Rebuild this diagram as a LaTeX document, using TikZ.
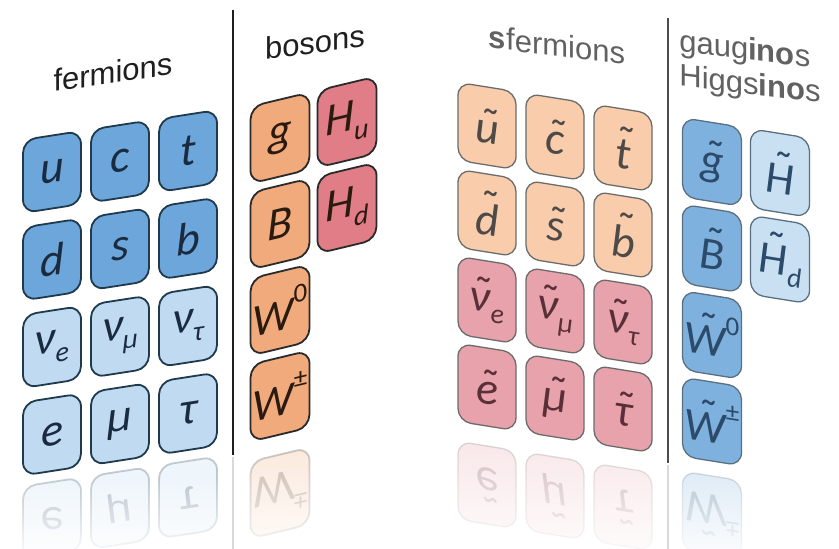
\documentclass[tikz,border=0pt]{standalone}
\usepackage{fontspec}
\usetikzlibrary{fadings}
\newfontfamily\pfont{Carlito}
\newfontfamily\hfont{Liberation Sans}

% particle symbols: sub/superscripts and a tilde placed over a glyph
\newcommand\sbs[1]{\raisebox{-0.22em}{\fontsize{28}{28}\selectfont #1}}
\newcommand\sps[1]{\raisebox{0.52em}{\fontsize{27}{27}\selectfont\upshape #1}}
\newcommand\tld[2][0.16em]{{\setbox0\hbox{#2}\rlap{\hbox to\wd0{\hss\kern#1\raisebox{\dimexpr\ht0-0.40em\relax}{\upshape\char"02DC}\hss}}\box0}}

\definecolor{quarkfill}{HTML}{6CA6DA}
\definecolor{leptonfill}{HTML}{BFDAF1}
\definecolor{ferline}{HTML}{1E3A4C}
\definecolor{fertext}{HTML}{1A2B40}
\definecolor{gaugefill}{HTML}{F1AA7B}
\definecolor{higgsfill}{HTML}{E07D87}
\definecolor{bosline}{HTML}{2A2A2A}
\definecolor{bostext}{HTML}{2A1A10}
\definecolor{squarkfill}{HTML}{F9CDAB}
\definecolor{sleptonfill}{HTML}{E8A2AB}
\definecolor{sfline}{HTML}{6B6B6B}
\definecolor{sqtext}{HTML}{4E4A48}
\definecolor{sltext}{HTML}{5A3038}
\definecolor{gauginofill}{HTML}{7EB1DE}
\definecolor{higgsinofill}{HTML}{C9E0F3}
\definecolor{ginoline}{HTML}{5A6F80}
\definecolor{ginotext}{HTML}{2C4A6A}

\tikzset{
  pbox/.style={draw, rounded corners=13pt, minimum width=58pt, minimum height=73pt,
    inner sep=0pt, transform shape, font=\pfont\itshape\fontsize{46}{46}\selectfont},
  fer/.style={pbox, yslant=0.155, draw=ferline, text=fertext, line width=1.8pt},
  quark/.style={fer, fill=quarkfill},
  lepton/.style={fer, fill=leptonfill},
  bos/.style={pbox, yslant=0.24, minimum width=59pt, minimum height=77pt,
    draw=bosline, text=bostext, line width=1.8pt},
  gauge/.style={bos, fill=gaugefill},
  higgs/.style={bos, fill=higgsfill},
  sf/.style={pbox, yslant=-0.16, minimum height=78pt, draw=sfline, line width=1.3pt},
  squark/.style={sf, fill=squarkfill, text=sqtext},
  slepton/.style={sf, fill=sleptonfill, text=sltext},
  gino/.style={pbox, yslant=-0.16, minimum width=59pt, minimum height=79pt,
    draw=ginoline, text=ginotext, line width=1.3pt},
  gaugino/.style={gino, fill=gauginofill},
  higgsino/.style={gino, fill=higgsinofill},
  mirror/.style={yscale=-1, opacity=0.25},
  head/.style={transform shape, inner sep=0pt, text=black!88,
    font=\hfont\fontsize{31}{34}\selectfont},
  headgray/.style={head, text=black!62},
  divider/.style={line width=2.4pt},
  fadeout/.style={fill=white, path fading=north, fill opacity=0.85}
}

\begin{document}
\begin{tikzpicture}[x=1pt, y=-1pt]
\fill[white] (0,0) rectangle (839,549);
\path[use as bounding box] (0,0) rectangle (839,549);

% mirror images under the bottom rows
\node[lepton, mirror] (re)  at (52,518.5) {e};
\node[lepton, mirror] (rmu) at (120,508) {μ};
\node[lepton, mirror] (rtau) at (188,497.5) {τ};
\node[gauge, mirror] (rwpm) at (280,493) {W\sps{±}};
\node[slepton, mirror] (rse) at (487,485) {\tld{e}};
\node[slepton, mirror] (rsmu) at (555,496) {\tld{μ}};
\node[slepton, mirror] (rstau) at (623,507) {\tld{τ}};
\node[gaugino, mirror] (rwino) at (712,515.5) {\tld{W}\sps{±}};
\draw[black!15, line width=2pt] (233,457) -- (233,549);
\draw[black!15, line width=2pt] (668,465) -- (668,549);
\fill[fadeout] (0,474) rectangle (232,549);
\fill[fadeout] (234,446) rectangle (420,549);
\fill[fadeout] (420,438) rectangle (667,549);
\fill[fadeout] (669,470) rectangle (839,549);

% dividers
\coordinate (d1top) at (233,10);
\coordinate (d1bot) at (233,455);
\coordinate (d2top) at (668,18);
\coordinate (d2bot) at (668,463);
\draw[divider, black!88] (d1top) -- (d1bot);
\draw[divider, black!70, line width=2pt] (d2top) -- (d2bot);

% fermions
\node[quark] (u) at (52,172) {u};
\node[quark] (c) at (120,161.5) {c};
\node[quark] (t) at (188,151) {t};
\node[quark] (d) at (52,259.5) {d};
\node[quark] (s) at (120,249) {s};
\node[quark] (b) at (188,238.5) {b};
\node[lepton] (nue) at (52,347) {ν\sbs{e}};
\node[lepton] (numu) at (120,336.5) {ν\sbs{μ}};
\node[lepton] (nutau) at (188,326) {ν\sbs{τ}};
\node[lepton] (e) at (52,434.5) {e};
\node[lepton] (mu) at (120,424) {μ};
\node[lepton] (tau) at (188,413.5) {τ};

% bosons
\node[gauge] (g) at (280,138) {g};
\node[higgs] (hu) at (347,122) {H\sbs{u}};
\node[gauge] (bb) at (280,224) {B};
\node[higgs] (hd) at (347,208) {H\sbs{d}};
\node[gauge] (w0) at (280,310) {W\sps{0}};
\node[gauge] (wpm) at (280,396) {W\sps{±}};

% sfermions
\node[squark] (su) at (487,126) {\tld{u}};
\node[squark] (sc) at (555,137) {\tld{c}};
\node[squark] (st) at (623,148) {\tld{t}};
\node[squark] (sd) at (487,213) {\tld{d}};
\node[squark] (ss) at (555,224) {\tld{s}};
\node[squark] (sb) at (623,235) {\tld{b}};
\node[slepton] (snue) at (487,300) {\tld{ν}\sbs{e}};
\node[slepton] (snumu) at (555,311) {\tld{ν}\sbs{μ}};
\node[slepton] (snutau) at (623,322) {\tld{ν}\sbs{τ}};
\node[slepton] (se) at (487,387) {\tld{e}};
\node[slepton] (smu) at (555,398) {\tld{μ}};
\node[slepton] (stau) at (623,409) {\tld{τ}};

% gauginos and higgsinos
\node[gaugino] (gluino) at (712,162) {\tld{g}};
\node[higgsino] (hino) at (780,173) {\tld{H}};
\node[gaugino] (bino) at (712,248.5) {\tld{B}};
\node[higgsino] (hdino) at (780,259.5) {\tld{H}\sbs{d}};
\node[gaugino] (w0ino) at (712,335) {\tld{W}\sps{0}};
\node[gaugino] (wpmino) at (712,421.5) {\tld{W}\sps{±}};

% headings
\node[head, yslant=0.15] (fermhead) at (113,72) {fermions};
\node[head, yslant=0.13] (boshead) at (315,42) {bosons};
\node[headgray, yslant=-0.12] (sfhead) at (557,45) {\textbf{s}fermions};
\node[headgray, yslant=-0.12, align=left] (inohead) at (750,69)
  {gaug\textbf{ino}s\\Higgs\textbf{ino}s};
\end{tikzpicture}
\end{document}
